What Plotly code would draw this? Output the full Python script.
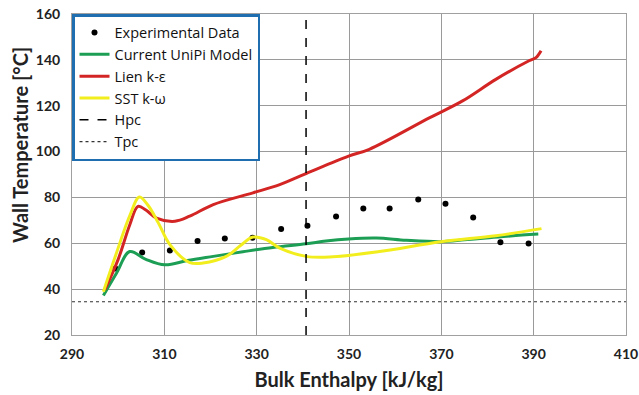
import plotly.graph_objects as go

# Experimental data
exp_x = [299.4, 305.2, 311.2, 317.2, 323.1, 329.1, 335.3, 341.0, 347.2, 353.1, 358.8, 365.0, 370.9, 376.9, 382.8, 388.9]
exp_y = [49.0, 56.0, 56.9, 61.0, 62.1, 62.4, 66.2, 67.7, 71.7, 75.2, 75.2, 79.1, 77.2, 71.2, 60.4, 59.9]

# Current UniPi Model
green_x = [296.8, 299.6, 302.5, 306.0, 310.1, 315.0, 320.6, 327.0, 333.5, 340.7, 345.0, 349.9, 355.9, 362.4, 369.9, 375.0, 379.7, 385.0, 391.0]
green_y = [37.2, 46.8, 56.4, 53.0, 50.6, 52.5, 54.3, 56.3, 58.2, 59.8, 61.0, 61.9, 62.3, 61.3, 60.7, 61.5, 62.3, 63.2, 64.0]

# Lien k-epsilon
red_x = [297.1, 300.0, 302.5, 304.3, 306.0, 308.3, 312.3, 315.5, 320.6, 329.2, 335.0, 340.7, 349.9, 354.4, 367.5, 374.6, 381.8, 389.0, 390.5, 391.6]
red_y = [39.7, 53.0, 68.0, 76.1, 74.5, 71.0, 69.6, 71.8, 76.9, 82.0, 85.6, 90.4, 98.0, 101.0, 114.8, 122.1, 131.5, 139.6, 141.0, 144.0]

# SST k-omega
yel_x = [296.8, 299.5, 302.5, 304.6, 306.5, 308.7, 311.2, 315.5, 318.4, 323.4, 326.5, 329.2, 332.1, 335.0, 340.7, 345.8, 356.6, 369.9, 381.8, 391.7]
yel_y = [38.9, 55.0, 72.0, 80.2, 76.5, 68.9, 59.4, 51.6, 51.4, 54.3, 59.0, 62.7, 61.6, 57.9, 54.3, 54.0, 56.4, 60.7, 63.3, 66.4]

# Pseudo-critical references
hpc = 340.7
tpc = 34.5
x_range = [290, 410]
y_range = [20, 160]
x_ticks = [290, 310, 330, 350, 370, 390, 410]
y_ticks = [20, 40, 60, 80, 100, 120, 140, 160]

FONT = "Lato"

fig = go.Figure()
fig.add_trace(go.Scatter(x=exp_x, y=exp_y, mode="markers", name="Experimental Data",
                         marker=dict(color="black", size=6)))
fig.add_trace(go.Scatter(x=green_x, y=green_y, mode="lines", name="Current UniPi Model",
                         line=dict(color="#1C9E55", width=3, shape="spline")))
fig.add_trace(go.Scatter(x=red_x, y=red_y, mode="lines", name="Lien k-ε",
                         line=dict(color="#D42525", width=3, shape="spline")))
fig.add_trace(go.Scatter(x=yel_x, y=yel_y, mode="lines", name="SST k-ω",
                         line=dict(color="#F2EE1E", width=3, shape="spline")))
fig.add_trace(go.Scatter(x=[hpc, hpc], y=y_range, mode="lines", name="Hpc",
                         line=dict(color="black", width=1.5, dash="dash")))
fig.add_trace(go.Scatter(x=x_range, y=[tpc, tpc], mode="lines", name="Tpc",
                         line=dict(color="#333333", width=1.2, dash="dot")))

fig.update_layout(
    width=639, height=395,
    margin=dict(l=72, r=13, t=14, b=60, autoexpand=False),
    paper_bgcolor="white", plot_bgcolor="white",
    font=dict(family=FONT, color="#222222"),
    showlegend=True,
    legend=dict(x=0, y=1, xanchor="left", yanchor="top",
                bgcolor="white", bordercolor="#1F6FB0", borderwidth=2.5,
                font=dict(family="Open Sans", size=14.5, color="#111111"),
                itemwidth=30, tracegroupgap=0),
    annotations=[dict(text="<b>Wall Temperature [°C]</b>", xref="paper", yref="paper",
                      x=-0.094, y=0.592, xanchor="center", yanchor="middle", textangle=-90,
                      showarrow=False, font=dict(size=20, family=FONT, color="#222222"))],
)
fig.update_xaxes(range=x_range, tickvals=x_ticks, ticktext=[f"<b>{v}</b>" for v in x_ticks],
                 showgrid=True, gridcolor="#9A9A9A", gridwidth=1, automargin=False,
                 showline=True, linecolor="#A0A0A0", mirror=True, zeroline=False,
                 ticks="", ticklabelstandoff=6, ticklabeloverflow="allow",
                 tickfont=dict(size=14, family=FONT, color="#222222"),
                 title=dict(text="<b>Bulk Enthalpy [kJ/kg]</b>", font=dict(size=20, family=FONT, color="#222222"),
                            standoff=12))
fig.update_yaxes(range=y_range, tickvals=y_ticks, ticktext=[f"<b>{v}</b>" for v in y_ticks],
                 showgrid=True, gridcolor="#9A9A9A", gridwidth=1, automargin=False,
                 showline=True, linecolor="#A0A0A0", mirror=True, zeroline=False,
                 ticks="", ticklabelstandoff=8, ticklabeloverflow="allow",
                 tickfont=dict(size=14, family=FONT, color="#222222"))

# remove the default page margin so the 639x395 figure fills the window exactly
fig.write_html("out.html", config={"displayModeBar": False},
               post_script="document.body.style.margin='0';document.body.style.overflow='hidden';")
